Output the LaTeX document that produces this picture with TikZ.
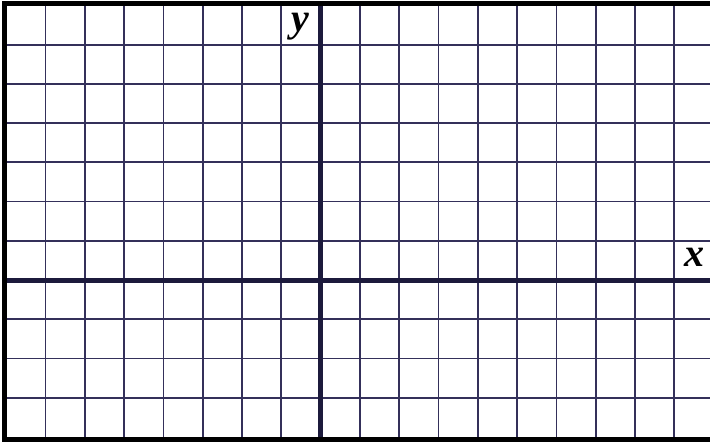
\documentclass[tikz,border=0pt]{standalone}
\usepackage{fontspec}
\setmainfont{Liberation Serif}
\definecolor{gridcol}{HTML}{34305A}
\definecolor{axiscol}{HTML}{1C1A3C}
\tikzset{
  gridline/.style={draw=gridcol, line width=1.8pt},
  axisline/.style={draw=axiscol, line width=5.5pt},
  frameline/.style={draw=black, line width=4.6pt},
  axislabel/.style={anchor=base, inner sep=0pt, font=\fontsize{40}{40}\selectfont\bfseries\itshape}
}
\begin{document}
\begin{tikzpicture}[x=1pt,y=-1pt]
\useasboundingbox (0,0) rectangle (710,443);
\fill[white] (0,0) rectangle (710,443);
% grid
\foreach \i in {1,...,17} {
  \draw[gridline] ({6.2+39.3*\i},5.4) -- ({6.2+39.3*\i},437.7);
}
\foreach \j in {1,...,10} {
  \draw[gridline] (6,{5.4+39.23*\j}) -- (710,{5.4+39.23*\j});
}
% axes
\draw[axisline] (320.4,5) -- (320.4,438);
\draw[axisline] (6,280.5) -- (710,280.5);
% frame (top, left, bottom)
\draw[frameline] (710,3.8) -- (4.6,3.8) -- (4.6,439.4) -- (710,439.4);
% labels
\node[axislabel] (ylab) at (300,32) {y};
\node[axislabel] (xlab) at (694,267) {x};
\end{tikzpicture}
\end{document}
